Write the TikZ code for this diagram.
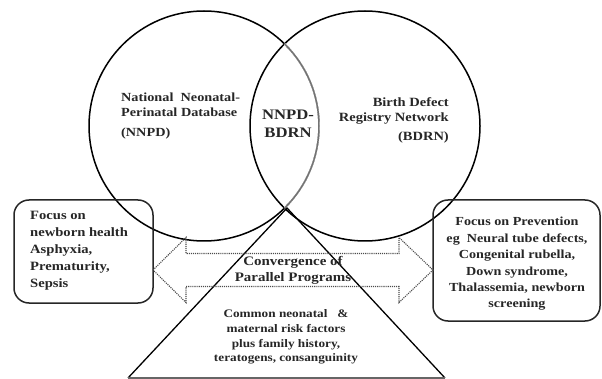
\documentclass[tikz,border=0pt]{standalone}
\usepackage{fontspec}
\setmainfont[FakeStretch=1.15]{Liberation Serif}
\begin{document}
\begin{tikzpicture}[x=1pt,y=-1pt,
  txt/.style={inner sep=0pt, font=\bfseries, text=black!85},
  ring/.style={line width=1.5pt, black},
  roundbox/.style={line width=1.5pt, black!85, rounded corners=15pt},
  dots/.style={densely dotted, line width=1.1pt, black!70},
  tri/.style={line width=1.3pt, black}]
\useasboundingbox (0,0) rectangle (602,379);
% circles
\coordinate (cl) at (204,126);
\coordinate (cr) at (365,126);
\draw[ring] (cr) circle[radius=115pt];
\draw[ring] (cl) circle[radius=115pt];
\begin{scope}
  \clip (cr) circle[radius=115pt];
  \draw[line width=1.7pt, white] (cl) circle[radius=115pt];
  \draw[ring, black!55] (cl) circle[radius=115pt];
\end{scope}
% boxes
\draw[roundbox] (14,200) rectangle (153,303);
\draw[roundbox] (433,200) rectangle (600,321);
% triangle
\coordinate (apex) at (287,208);
\coordinate (bl) at (128,378);
\coordinate (br) at (445,378);
\draw[tri] (bl) -- (apex) -- (br);
\draw[line width=1.3pt, black!60] (bl) -- (br);
% double arrow
\draw[dots] (153,270) -- (186,237.5) -- (186,253.5) -- (399,253.5) -- (399,237.5)
  -- (433,270) -- (399,302.5) -- (399,286.5) -- (186,286.5) -- (186,302.5) -- cycle;
% texts
\node[txt, anchor=west, align=left, font=\bfseries\fontsize{12.4}{15}\selectfont] (nnpd) at (121,116)
  {National\ \ Neonatal-\\Perinatal Database\\[5pt](NNPD)};
\node[txt, anchor=east, align=right, font=\bfseries\fontsize{12.6}{15}\selectfont] (bdrn) at (449,120)
  {Birth Defect\\Registry Network\\[4pt](BDRN)};
\node[txt, align=center, font=\bfseries\fontsize{14.5}{18}\selectfont] (mid) at (288,124)
  {NNPD-\\BDRN};
\node[txt, anchor=west, align=left, font=\bfseries\fontsize{12.7}{16.9}\selectfont] (lbox) at (30,250.5)
  {Focus on\\newborn health\\Asphyxia,\\Prematurity,\\Sepsis};
\node[txt, align=center, font=\bfseries\fontsize{12.3}{16.4}\selectfont] (rbox) at (517,264)
  {Focus on Prevention\\eg\ \ Neural tube defects,\\Congenital rubella,\\Down syndrome,\\Thalassemia, newborn\\screening};
\node[txt, align=center, font=\bfseries\fontsize{13}{16}\selectfont] (conv) at (293,270)
  {Convergence of\\Parallel Programs};
\node[txt, align=center, font=\bfseries\fontsize{11.5}{14.7}\selectfont] (risk) at (286,337)
  {Common neonatal\ \ \ \&\\maternal risk factors\\plus family history,\\teratogens, consanguinity};
\end{tikzpicture}
\end{document}
